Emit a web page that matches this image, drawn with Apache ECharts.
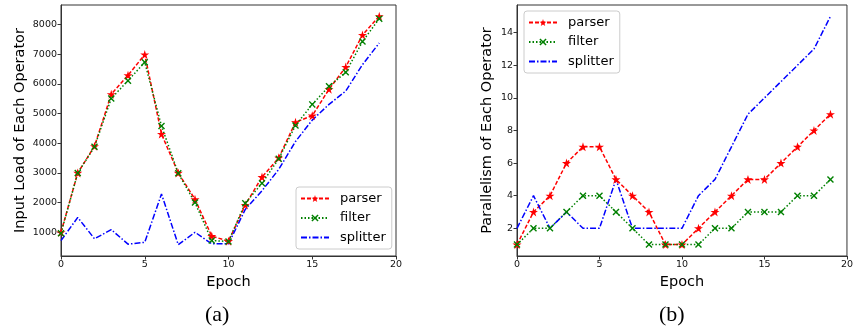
<!DOCTYPE html>
<html><head><meta charset="utf-8">
<script src="https://cdn.jsdelivr.net/npm/echarts@6/dist/echarts.min.js"></script>
<style>html,body{margin:0;padding:0;background:#fff}#c{width:856px;height:331px}</style>
</head><body><div id="c"></div>
<script>
const epochs = [0,1,2,3,4,5,6,7,8,9,10,11,12,13,14,15,16,17,18,19];
const loadParser   = [1000,3000,3900,5650,6290,6990,4310,3000,2110,870,700,1920,2860,3510,4710,4930,5820,6570,7650,8280];
const loadFilter   = [970,3000,3880,5510,6110,6730,4580,2990,2000,720,690,1980,2650,3480,4600,5310,5920,6390,7430,8200];
const loadSplitter = [720,1500,780,1090,600,660,2290,580,1000,610,610,1770,2400,3120,4060,4780,5310,5760,6650,7380];
const parParser    = [1,3,4,6,7,7,5,4,3,1,1,2,3,4,5,5,6,7,8,9];
const parFilter    = [1,2,2,3,4,4,3,2,1,1,1,1,2,2,3,3,3,4,4,5];
const parSplitter  = [2,4,2,3,2,2,5,2,2,2,2,4,5,7,9,10,11,12,13,15];
const seriesNames  = ['parser','filter','splitter'];
const xTicks = [0,5,10,15,20];
const loadTicks = [1000,2000,3000,4000,5000,6000,7000,8000];
const parTicks = [2,4,6,8,10,12,14];

const STAR = 'path://M50,0 L61.2,34.6 L97.6,34.5 L68.1,55.9 L79.4,90.5 L50,69 L20.6,90.5 L31.9,55.9 L2.4,34.5 L38.8,34.6 Z';
const XMARK = 'path://M0,1.4 L1.4,0 L5,3.6 L8.6,0 L10,1.4 L6.4,5 L10,8.6 L8.6,10 L5,6.4 L1.4,10 L0,8.6 L3.6,5 Z';
const styles = {
  parser:  {color:'#ff0000', type:[4,2], symbol:STAR, size:9},
  filter:  {color:'#008000', type:[1.5,2], symbol:XMARK, size:7},
  splitter:{color:'#0000ff', type:[6,2,1.5,2], symbol:'none', size:0}
};
const pairs = arr => epochs.map((e,i)=>[e, arr[i]]);
function mk(name, arr, idx){
  const s = styles[name];
  return {name, type:'line', xAxisIndex:idx, yAxisIndex:idx, data:pairs(arr),
    symbol:s.symbol, symbolSize:s.size, showSymbol: s.symbol!=='none',
    lineStyle:{color:s.color, width:1.5, type:s.type},
    itemStyle:{color:s.color}, animation:false, z:2};
}
const tickFont = {fontFamily:'DejaVu Sans', fontSize:9.5, color:'#111'};
const nameFont = {fontFamily:'DejaVu Sans', fontSize:14.5, color:'#000'};
function xAx(gi){
  return {type:'value', gridIndex:gi, min:0, max:20, interval:5,
    name:'Epoch', nameLocation:'middle', nameGap:19, nameTextStyle:nameFont,
    axisLine:{show:true, onZero:false, lineStyle:{color:'#333', width:1}},
    axisTick:{show:true, length:3.5, lineStyle:{color:'#333'}},
    axisLabel:Object.assign({margin:4, formatter:v=>String(v)}, tickFont), splitLine:{show:false}};
}
function yAx(gi, min, max, ticks, name, gap){
  return {type:'value', gridIndex:gi, min, max,
    name, nameLocation:'middle', nameGap:gap, nameTextStyle:nameFont,
    axisLine:{show:true, onZero:false, lineStyle:{color:'#333', width:1}},
    axisTick:{show:true, length:3.5, customValues:ticks, lineStyle:{color:'#333'}},
    axisLabel:Object.assign({margin:4, customValues:ticks, formatter:v=>String(v)}, tickFont), splitLine:{show:false}};
}
function legend(left, top){
  return {show:true, orient:'vertical', left, top,
    data:[{name:'parser'},{name:'filter'},{name:'splitter', itemStyle:{opacity:0}}],
    itemWidth:28, itemHeight:9, itemGap:4.5, padding:[4,6,4,4],
    borderColor:'#ccc', borderWidth:1, borderRadius:3, backgroundColor:'#fff',
    textStyle:{fontFamily:'DejaVu Sans', fontSize:13, color:'#000', lineHeight:15, padding:[0,0,0,6]},
    selectedMode:false};
}
const chart = echarts.init(document.getElementById('c'), null, {renderer:'canvas'});
chart.setOption({
  backgroundColor:'#fff',
  animation:false,
  grid:[
    {left:61, top:5, width:335, height:251, show:true, borderColor:'#333', borderWidth:1, backgroundColor:'transparent'},
    {left:517, top:5, width:335, height:251, show:true, borderColor:'#333', borderWidth:1, backgroundColor:'transparent'}
  ],
  xAxis:[xAx(0), xAx(1)],
  yAxis:[yAx(0, 200, 8660, loadTicks, 'Input Load of Each Operator', 33),
         yAx(1, 0.3, 15.7, parTicks, 'Parallelism of Each Operator', 22)],
  legend:[legend(296,187), legend(524,11)],
  series:[
    mk('parser', loadParser, 0), mk('filter', loadFilter, 0), mk('splitter', loadSplitter, 0),
    mk('parser', parParser, 1), mk('filter', parFilter, 1), mk('splitter', parSplitter, 1)
  ],
  graphic:[
    {type:'text', left:218-13, top:304, style:{text:'(a)', font:'22px "Liberation Serif"', fill:'#000'}},
    {type:'text', left:672-13, top:304, style:{text:'(b)', font:'22px "Liberation Serif"', fill:'#000'}}
  ]
});
</script></body></html>
